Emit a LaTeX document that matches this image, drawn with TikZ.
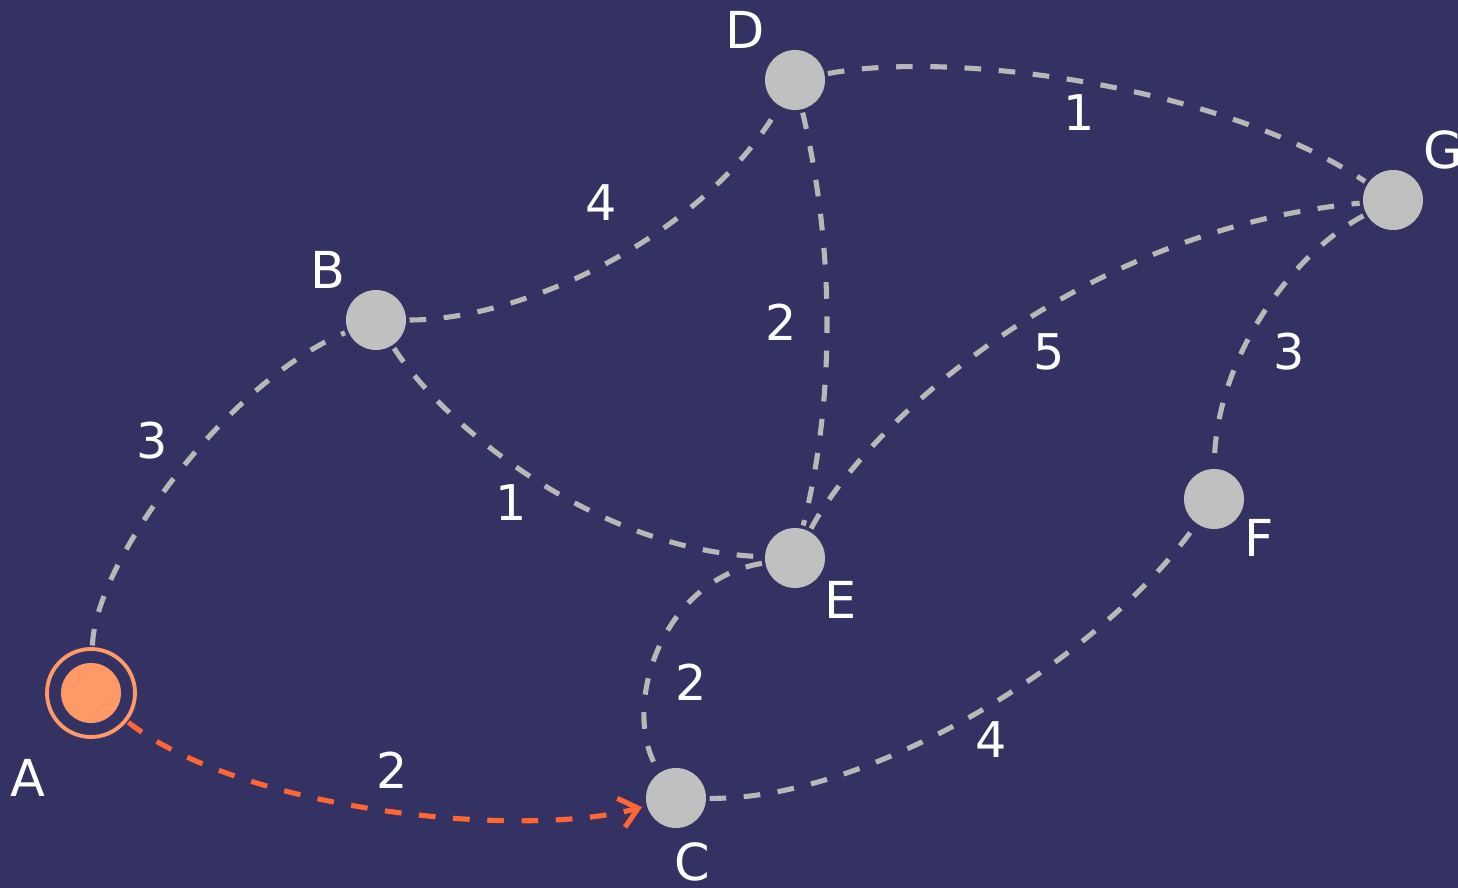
\documentclass[tikz,border=0pt]{standalone}
\usepackage{fontspec}
\setmainfont{DejaVu Sans}
\usetikzlibrary{arrows.meta}
\definecolor{bg}{RGB}{52,50,98}
\definecolor{nodegray}{RGB}{192,192,192}
\definecolor{edgegray}{RGB}{184,184,184}
\definecolor{aorange}{RGB}{255,153,102}
\definecolor{arrorange}{RGB}{255,102,51}
\begin{document}
\begin{tikzpicture}[x=0.02cm,y=-0.02cm,
  vert/.style={circle, fill=nodegray, minimum size=1.2cm, inner sep=0pt, outer sep=2pt},
  lbl/.style={text=white, font=\fontsize{29}{30}\selectfont, inner sep=0pt},
  wt/.style={text=white, font=\fontsize{28}{30}\selectfont, inner sep=0pt},
  edge/.style={draw=edgegray, line width=2.9pt, dash pattern=on 9.5pt off 10pt},
  redge/.style={draw=arrorange, line width=2.9pt, dash pattern=on 9.5pt off 10pt},
]
\fill[bg] (0,0) rectangle (1458,888);
\useasboundingbox (0,0) rectangle (1458,888);

% nodes
\node[circle, draw=aorange, line width=2.2pt, minimum size=1.76cm, inner sep=0pt, outer sep=2pt] (A) at (91,693) {};
\node[circle, fill=aorange, minimum size=1.2cm, inner sep=0pt] (Ain) at (91,693) {};
\node[vert] (B) at (376,320) {};
\node[vert] (C) at (676,798) {};
\node[vert] (D) at (795,80) {};
\node[vert] (E) at (795,558) {};
\node[vert] (F) at (1214,499) {};
\node[vert] (G) at (1393,200) {};

% node labels
\node[lbl] (lA) at (28,778) {A};
\node[lbl] (lB) at (328,270) {B};
\node[lbl] (lC) at (692,862) {C};
\node[lbl] (lD) at (745,30) {D};
\node[lbl] (lE) at (841,600) {E};
\node[lbl] (lF) at (1259,538) {F};
\node[lbl] (lG) at (1443,150) {G};

% edges
\draw[edge] (A) .. controls (95,560) and (230,380) .. (B);
\draw[edge] (B) .. controls (520,320) and (700,240) .. (D);
\draw[edge] (B) .. controls (440,420) and (590,550) .. (E);
\draw[edge] (D) .. controls (835,250) and (835,400) .. (E);
\draw[edge] (D) .. controls (950,50) and (1220,85) .. (G);
\draw[edge] (E) .. controls (870,420) and (1080,230) .. (G);
\draw[edge] (G) .. controls (1290,255) and (1215,360) .. (F);
\draw[edge] (E) .. controls (660,580) and (620,710) .. (C);
\draw[edge] (C) .. controls (870,800) and (1100,660) .. (F);
\draw[redge, -{Straight Barb[length=10pt,width=17pt,line width=2.9pt]}, shorten >=1pt] (A) .. controls (240,810) and (520,840) .. (C);

% weights
\node[wt] (w1) at (152,441) {3};
\node[wt] (w2) at (601,203) {4};
\node[wt] (w3) at (511,503) {1};
\node[wt] (w4) at (781,322) {2};
\node[wt] (w5) at (1079,113) {1};
\node[wt] (w6) at (1049,352) {5};
\node[wt] (w7) at (1289,352) {3};
\node[wt] (w8) at (691,682) {2};
\node[wt] (w9) at (991,740) {4};
\node[wt] (w10) at (392,770) {2};
\end{tikzpicture}
\end{document}
